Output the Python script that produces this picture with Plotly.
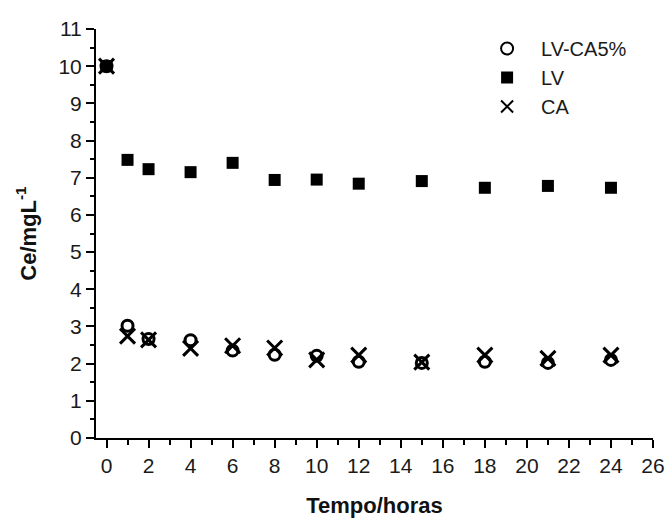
import plotly.graph_objects as go

tempo = [0, 1, 2, 4, 6, 8, 10, 12, 15, 18, 21, 24]
lv_ca5 = [10, 3.02, 2.66, 2.63, 2.35, 2.24, 2.21, 2.05, 2.02, 2.05, 2.02, 2.10]
lv = [10, 7.48, 7.23, 7.15, 7.40, 6.94, 6.95, 6.84, 6.91, 6.73, 6.78, 6.73]
ca = [10, 2.74, 2.64, 2.41, 2.48, 2.42, 2.10, 2.23, 2.04, 2.23, 2.14, 2.23]

FONT = "Arial, Liberation Sans, sans-serif"

fig = go.Figure()
fig.add_trace(go.Scatter(x=tempo, y=lv_ca5, mode="markers", name="LV-CA5%",
                         marker=dict(symbol="circle-open", size=11, color="black",
                                     line=dict(width=3, color="black"))))
fig.add_trace(go.Scatter(x=tempo, y=lv, mode="markers", name="LV",
                         marker=dict(symbol="square", size=12, color="black")))
fig.add_trace(go.Scatter(x=tempo, y=ca, mode="markers", name="CA",
                         marker=dict(symbol="x-thin-open", size=15, color="black",
                                     line=dict(width=3, color="black"))))

axis_common = dict(showgrid=False, zeroline=False, showline=True, linecolor="black",
                   linewidth=2, ticks="outside", ticklen=8, tickwidth=2, tickcolor="black",
                   tickfont=dict(family=FONT, size=21, color="#1a1a1a"),
                   mirror=False, automargin=False)

fig.update_xaxes(range=[-0.5, 26], tickmode="linear", tick0=0, dtick=2,
                 minor=dict(ticks="outside", ticklen=5, tickwidth=2, tickcolor="black", dtick=1, tick0=1),
                 title=dict(text="<b>Tempo/horas</b>", font=dict(family=FONT, size=22, color="#111"),
                            standoff=31),
                 **axis_common)
fig.update_yaxes(range=[0, 11], tickmode="linear", tick0=0, dtick=1,
                 minor=dict(ticks="outside", ticklen=4, tickwidth=2, tickcolor="black", dtick=0.5, tick0=0),
                 title=dict(text="<b>Ce/mgL<sup>-1</sup></b>", font=dict(family=FONT, size=22, color="#111"),
                            standoff=16),
                 **axis_common)

fig.update_layout(
    width=669, height=518,
    margin=dict(l=96, r=16, t=29, b=80),
    plot_bgcolor="white", paper_bgcolor="white",
    legend=dict(x=0.677, y=1.0, xanchor="left", yanchor="top", itemwidth=58,
                font=dict(family=FONT, size=20, color="#1a1a1a"),
                bgcolor="rgba(0,0,0,0)", tracegroupgap=0, itemsizing="constant"),
    showlegend=True,
)

fig.write_html("out.html")
